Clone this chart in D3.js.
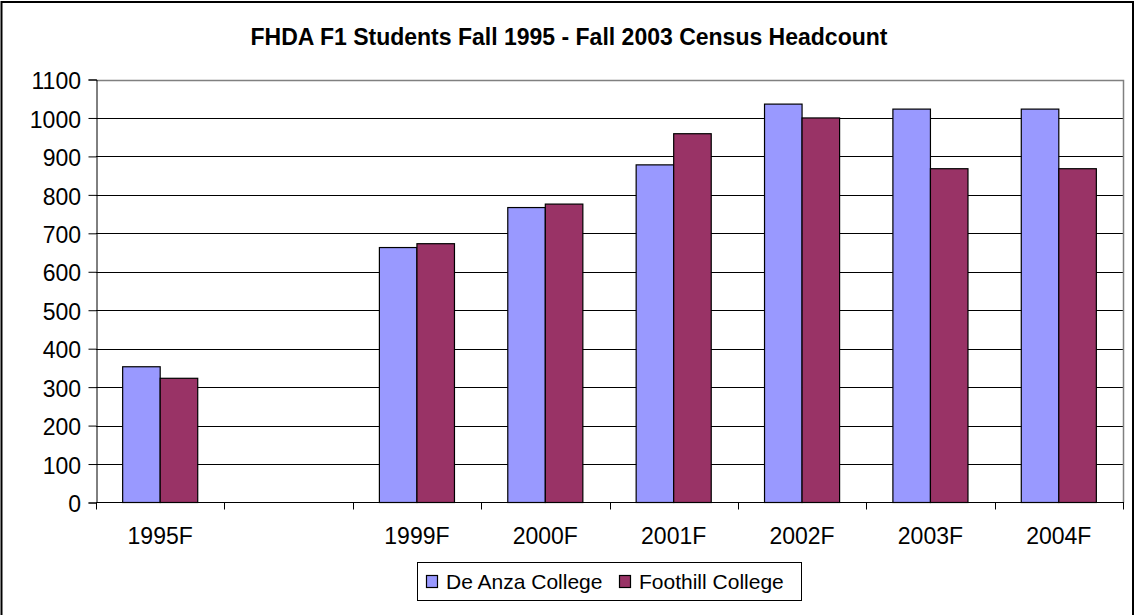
<!DOCTYPE html>
<html>
<head>
<meta charset="utf-8">
<script src="https://cdn.jsdelivr.net/npm/d3@7"></script>
<style>
  html, body { margin: 0; padding: 0; background: #fff; }
  svg { display: block; font-family: "Liberation Sans", Arial, sans-serif; }
</style>
</head>
<body>
<svg id="chart" width="1139" height="615"></svg>
<script>
const title = "FHDA F1 Students Fall 1995 - Fall 2003 Census Headcount";
const categories = ["1995F", "", "1999F", "2000F", "2001F", "2002F", "2003F", "2004F"];
const seriesNames = ["De Anza College", "Foothill College"];
const deAnza = [353, null, 663, 767, 878, 1036, 1023, 1023];
const foothill = [323, null, 673, 776, 959, 1000, 868, 868];
const yTicks = [0, 100, 200, 300, 400, 500, 600, 700, 800, 900, 1000, 1100];
const colors = ["#9999FF", "#993366"];

const svg = d3.select("#chart");
const plot = { left: 96, right: 1123, top: 79.5, bottom: 502.5 };

// chart border
svg.append("rect").attr("x", 1.5).attr("y", 2).attr("width", 1131.5).attr("height", 640)
  .attr("fill", "#fff").attr("stroke", "#000").attr("stroke-width", 2);

// title
svg.append("text").attr("x", 569).attr("y", 45).attr("text-anchor", "middle")
  .attr("font-size", 23).attr("font-weight", "bold").text(title);

const x0 = d3.scaleBand().domain(categories).range([plot.left, plot.right]).paddingInner(0).paddingOuter(0);
const x1 = d3.scaleBand().domain(seriesNames).range([0, x0.bandwidth()]).paddingInner(0).paddingOuter(0.71);
const y = d3.scaleLinear().domain([0, 1100]).range([plot.bottom, plot.top]);

// gridlines
svg.append("g").selectAll("line").data(yTicks.filter(t => t > 0 && t < 1100)).join("line")
  .attr("x1", plot.left).attr("x2", plot.right)
  .attr("y1", d => Math.round(y(d)) + 0.5).attr("y2", d => Math.round(y(d)) + 0.5)
  .attr("stroke", "#000").attr("stroke-width", 1);

// plot area border top/right (gray)
svg.append("path")
  .attr("d", `M${plot.left},${Math.round(y(1100)) + 0.5}H${plot.right + 0.5}V${plot.bottom}`)
  .attr("fill", "none").attr("stroke", "#808080").attr("stroke-width", 1.5);

// bars
const data = categories.map((c, i) => ({ c, vals: [deAnza[i], foothill[i]] }));
const groups = svg.append("g").selectAll("g").data(data).join("g")
  .attr("transform", d => `translate(${x0(d.c)},0)`);
groups.selectAll("rect").data(d => d.vals.map((v, j) => ({ v, s: seriesNames[j], j })).filter(e => e.v != null))
  .join("rect")
  .attr("x", e => x1(e.s)).attr("width", x1.bandwidth())
  .attr("y", e => y(e.v)).attr("height", e => y(0) - y(e.v))
  .attr("fill", e => colors[e.j]).attr("stroke", "#000").attr("stroke-width", 1.2);

// y axis
const yAxis = d3.axisLeft(y).tickValues(yTicks).tickSize(8).tickPadding(7.5).tickFormat(d3.format("d"));
const gy = svg.append("g").attr("transform", `translate(${plot.left + 0.5},0)`).call(yAxis);
gy.select(".domain").attr("stroke", "#000");
gy.selectAll(".tick line").attr("stroke", "#000");
gy.selectAll("text").attr("font-size", 23).attr("fill", "#000").attr("dy", "0.4em")
  .attr("font-family", '"Liberation Sans", Arial, sans-serif');

// x axis with ticks at category boundaries
const gx = svg.append("g").attr("transform", `translate(0,${plot.bottom})`);
gx.append("line").attr("x1", plot.left).attr("x2", plot.right + 1).attr("y1", 0).attr("y2", 0).attr("stroke", "#000");
const bounds = categories.map(c => x0(c)).concat([plot.right]);
gx.selectAll("line.tk").data(bounds).join("line").attr("class", "tk")
  .attr("x1", d => Math.round(d) + 0.5).attr("x2", d => Math.round(d) + 0.5)
  .attr("y1", 0).attr("y2", 7).attr("stroke", "#000");
gx.selectAll("text").data(categories).join("text")
  .attr("x", d => x0(d) + x0.bandwidth() / 2).attr("y", 41.5)
  .attr("text-anchor", "middle").attr("font-size", 23).text(d => d);

// legend
const lg = svg.append("g");
lg.append("rect").attr("x", 417.5).attr("y", 562.5).attr("width", 384).attr("height", 38)
  .attr("fill", "#fff").attr("stroke", "#000").attr("stroke-width", 1);
const legendItems = [
  { name: seriesNames[0], color: colors[0], mx: 426, tx: 446 },
  { name: seriesNames[1], color: colors[1], mx: 619, tx: 639 }
];
legendItems.forEach(it => {
  lg.append("rect").attr("x", it.mx + 0.5).attr("y", 575.5).attr("width", 11).attr("height", 12)
    .attr("fill", it.color).attr("stroke", "#000").attr("stroke-width", 1.2);
  lg.append("text").attr("x", it.tx).attr("y", 589).attr("font-size", 21).text(it.name);
});
</script>
</body>
</html>
